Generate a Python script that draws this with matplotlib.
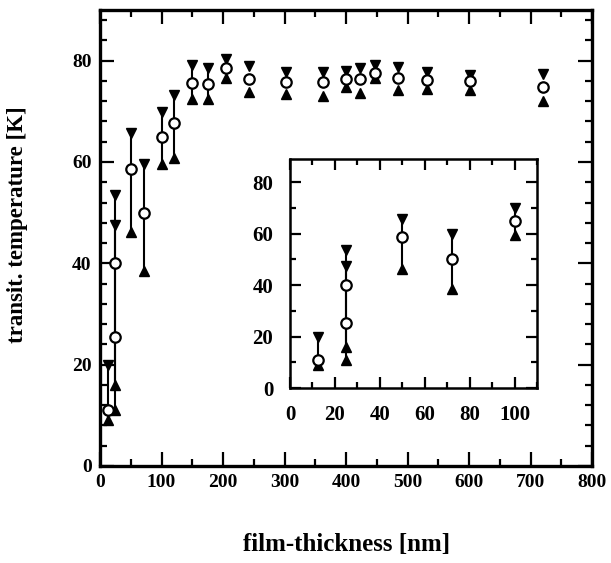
import matplotlib
matplotlib.use("Agg")
import matplotlib.pyplot as plt
from matplotlib.ticker import MultipleLocator
import numpy as np

# ---- data (film thickness in nm, transition temperature in K) ----
thickness = [12.5, 25, 25, 50, 72, 100, 120, 150, 175, 205, 243, 303, 363,
             400, 423, 447, 485, 531, 602, 721]
tc_mid    = [11, 40, 25.4, 58.6, 50, 65, 67.6, 75.6, 75.3, 78.5, 76.4, 75.8, 75.7,
             76.4, 76.3, 77.5, 76.5, 76.2, 76.0, 74.9]
tc_upper  = [20, 53.5, 47.6, 65.7, 59.7, 69.9, 73.2, 79.1, 78.5, 80.3, 78.9, 77.8, 77.8,
             78.0, 78.5, 79.1, 78.8, 77.7, 77.2, 77.3]
tc_lower  = [9, 16, 11, 46.2, 38.5, 59.6, 60.7, 72.4, 72.4, 76.6, 73.9, 73.4, 73.1,
             74.9, 73.7, 76.5, 74.2, 74.5, 74.2, 72.0]
n_bars = 9  # points drawn with a connecting vertical bar

main_xlabel = "film-thickness [nm]"
main_ylabel = "transit. temperature [K]"

plt.rcParams['font.family'] = ['Liberation Serif', 'DejaVu Serif']
plt.rcParams['font.weight'] = 'bold'

fig = plt.figure(figsize=(6.11, 5.63), dpi=100)

def draw(ax, xs, mid, up, lo, nb, ms_c, ms_t, lw):
    for i in range(len(xs)):
        if i < nb:
            ax.plot([xs[i], xs[i]], [lo[i], up[i]], color='black', lw=lw, zorder=2)
    ax.plot(xs, up, linestyle='none', marker='v', color='black', ms=ms_t, zorder=3)
    ax.plot(xs, lo, linestyle='none', marker='^', color='black', ms=ms_t, zorder=3)
    ax.plot(xs, mid, linestyle='none', marker='o', mfc='white', mec='black',
            ms=ms_c, mew=1.6, zorder=4)

def style(ax, spine_w, maj_len, min_len, fs, pad):
    for s in ax.spines.values():
        s.set_linewidth(spine_w)
    ax.tick_params(which='both', direction='in', top=True, right=True, width=1.6,
                   labelsize=fs)
    ax.tick_params(which='major', length=maj_len, pad=pad)
    ax.tick_params(which='minor', length=min_len)
    for lab in ax.get_xticklabels() + ax.get_yticklabels():
        lab.set_fontweight('bold')

# main axes
ax = fig.add_axes([100/611, 1-466/563, 492/611, 456/563])
draw(ax, thickness, tc_mid, tc_upper, tc_lower, n_bars, 7.5, 7, 1.5)
ax.set_xlim(0, 800)
ax.set_ylim(0, 90)
ax.xaxis.set_major_locator(MultipleLocator(100))
ax.xaxis.set_minor_locator(MultipleLocator(50))
ax.yaxis.set_major_locator(MultipleLocator(20))
ax.yaxis.set_minor_locator(MultipleLocator(4))
style(ax, 2.4, 10, 5, 14, 6)
fig.text(347/611, 1-545/563, main_xlabel, fontsize=18, fontweight='bold',
         ha='center', va='center')
fig.text(18/611, 1-225/563, main_ylabel, fontsize=16.5, fontweight='bold',
         ha='center', va='center', rotation=90)

# inset axes
xs_in = np.array(thickness)
mask = xs_in <= 100
ins = fig.add_axes([290/611, 1-388/563, 247/611, 229/563])
draw(ins, [t for t, m in zip(thickness, mask) if m],
     [v for v, m in zip(tc_mid, mask) if m],
     [v for v, m in zip(tc_upper, mask) if m],
     [v for v, m in zip(tc_lower, mask) if m], int(mask.sum()), 7.5, 7, 1.5)
ins.set_xlim(0, 110)
ins.set_ylim(0, 89)
ins.xaxis.set_major_locator(MultipleLocator(20))
ins.xaxis.set_minor_locator(MultipleLocator(10))
ins.yaxis.set_major_locator(MultipleLocator(20))
ins.yaxis.set_minor_locator(MultipleLocator(10))
style(ins, 1.8, 8, 4, 15, 12)

fig.savefig("out.png", dpi=100)
